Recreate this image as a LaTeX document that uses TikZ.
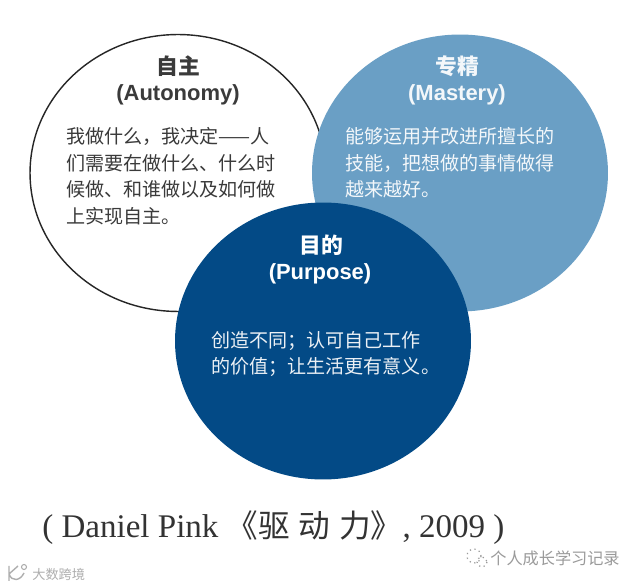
\documentclass[tikz,border=0pt]{standalone}
\usepackage{fontspec}
\usepackage{xcolor}
\usetikzlibrary{shapes.geometric}
\setmainfont{Noto Sans CJK SC}
\newfontfamily\latinsans{Liberation Sans}
\newfontfamily\latinserif{Liberation Serif}
\definecolor{Ink}{HTML}{3A3A3A}
\definecolor{Sky}{HTML}{6A9FC5}
\definecolor{Navy}{HTML}{034A86}
\definecolor{Mark}{HTML}{9A9A9A}
\tikzset{
  bubble/.style={ellipse, minimum width=5.92cm, minimum height=5.54cm, inner sep=0pt},
  heading/.style={font=\fontsize{12.4pt}{15pt}\selectfont\bfseries, inner sep=0pt},
  subheading/.style={font=\latinsans\fontsize{12.5pt}{15pt}\selectfont\bfseries, inner sep=0pt},
  blurb/.style={font=\fontsize{10.85pt}{15.1pt}\selectfont, align=left, anchor=north west, inner sep=0pt},
  wechat/.style={font=\fontsize{9.2pt}{11pt}\selectfont, text=Mark, inner sep=0pt}
}
\newcommand{\capgap}{\hspace{0.28em}}
\begin{document}
\begin{tikzpicture}[x=0.02cm,y=-0.02cm]
    \useasboundingbox (0,0) rectangle (640,587);
    \fill[white] (0,0) rectangle (640,587);
    % the three circles
    \node[bubble, draw=black!85, line width=0.8pt, fill=white] (autonomy) at (178,173) {};
    \node[bubble, fill=Sky] (mastery) at (460,173) {};
    \node[bubble, fill=Navy] (purpose) at (323,341) {};
    % left
    \node[heading, text=Ink] (autonomyzh) at (178,66) {自主};
    \node[subheading, text=Ink] (autonomyen) at (178,95) {(Autonomy)};
    \node[blurb, text=Ink] (autonomytext) at (66,127) {我做什么，我决定——人\\们需要在做什么、什么时\\候做、和谁做以及如何做\\上实现自主。};
    % right
    \node[heading, text=white!92!Sky] (masteryzh) at (457,66) {专精};
    \node[subheading, text=white!92!Sky] (masteryen) at (457,95) {(Mastery)};
    \node[blurb, text=white!92!Sky] (masterytext) at (345,127) {能够运用并改进所擅长的\\技能，把想做的事情做得\\越来越好。};
    % bottom
    \node[heading, text=white] (purposezh) at (321,245) {目的};
    \node[subheading, text=white] (purposeen) at (320,274) {(Purpose)};
    \node[blurb, text=white!92!Navy] (purposetext) at (211,331) {创造不同；认可自己工作\\的价值；让生活更有意义。};
    % caption and marks
    \node[inner sep=0pt, anchor=west, text=black!80] (source) at (42,528)
      {\latinserif\fontsize{18.8pt}{22pt}\selectfont ( Daniel Pink \fontsize{18pt}{22pt}\selectfont\rmfamily 《驱\capgap 动\capgap 力》\latinserif\fontsize{18.8pt}{22pt}\selectfont , 2009 )};
    \node[wechat, anchor=west] (account) at (490,558) {个人成长学习记录};
    \draw[Mark, dotted, line width=0.7pt] (474,556) circle (7);
    \draw[Mark, dotted, line width=0.7pt] (482,562) circle (5);
    \node[font=\fontsize{7.5pt}{9pt}\selectfont, text=Mark!80, inner sep=0pt, anchor=west] (site) at (32,574) {大数跨境};
    \draw[Mark!80, line width=0.8pt] (9,566) -- (9,581) (9,574) -- (18,566) (9,574) .. controls (12,582) and (20,581) .. (24,573);
    \draw[Mark!80, line width=0.6pt] (24,567) circle (2.5);
\end{tikzpicture}
\end{document}
